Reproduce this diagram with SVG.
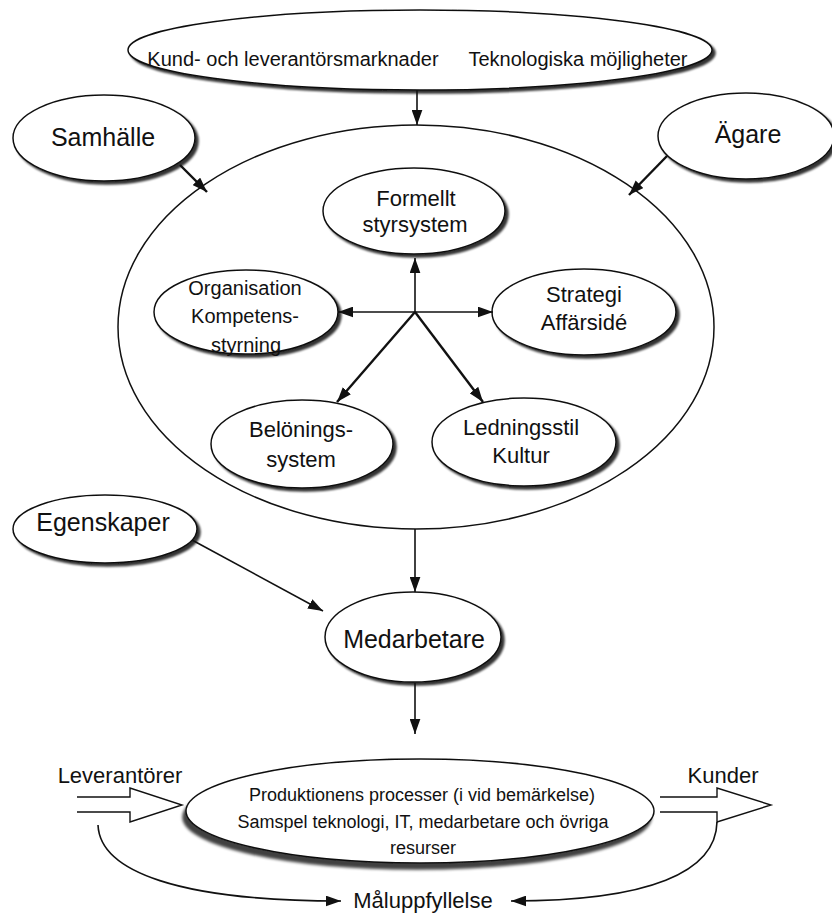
<svg xmlns="http://www.w3.org/2000/svg" width="832" height="913" viewBox="0 0 832 913">
  <defs>
    <style>
      text { font-family: "Liberation Sans", Arial, Helvetica, sans-serif; fill: #111; text-anchor: middle; }
      .node { fill: #fff; stroke: #111; stroke-width: 1.5; }
      .shadowed { filter: url(#shadow); }
      .t20 { font-size: 20px; }
      .t22 { font-size: 22px; }
      .t25 { font-size: 25px; }
      .t18 { font-size: 18px; }
      .link { fill: none; stroke: #111; stroke-width: 1.6; }
      .bold { stroke-width: 2.4; }
      .hollow { fill: #fff; stroke: #111; stroke-width: 1.4; stroke-linejoin: miter; }
    </style>
    <!-- soft grey drop shadow, lower right -->
    <filter id="shadow" x="-10%" y="-15%" width="125%" height="140%">
      <feGaussianBlur in="SourceAlpha" stdDeviation="1.2"/>
      <feOffset dx="3" dy="3"/>
      <feComponentTransfer><feFuncA type="linear" slope="0.8"/></feComponentTransfer>
      <feMerge><feMergeNode/><feMergeNode in="SourceGraphic"/></feMerge>
    </filter>
    <!-- wider shadow under the process ellipse -->
    <filter id="shadowLow" x="-10%" y="-20%" width="125%" height="150%">
      <feGaussianBlur in="SourceAlpha" stdDeviation="1.8"/>
      <feOffset dx="-3" dy="6"/>
      <feComponentTransfer><feFuncA type="linear" slope="0.75"/></feComponentTransfer>
      <feMerge><feMergeNode/><feMergeNode in="SourceGraphic"/></feMerge>
    </filter>
    <marker id="ah" viewBox="0 0 14 10" refX="14" refY="5" markerUnits="userSpaceOnUse" markerWidth="15" markerHeight="11" orient="auto">
      <path d="M0,0 L14,5 L0,10 z" fill="#111"/>
    </marker>
  </defs>

  <rect width="832" height="913" fill="#fff"/>

  <!-- outer environment: markets and technology -->
  <g id="marknader">
    <ellipse class="node shadowed" cx="420" cy="50" rx="292" ry="40"/>
    <text class="t20" x="293" y="66">Kund- och leverantörsmarknader</text>
    <text class="t20" x="578" y="66">Teknologiska möjligheter</text>
  </g>

  <!-- the company: steering components -->
  <g id="foretag">
    <ellipse class="node" cx="416" cy="327" rx="298" ry="202" stroke-width="1.3"/>
  </g>

  <g id="samhalle">
    <ellipse class="node shadowed" cx="104" cy="138" rx="91" ry="43"/>
    <text class="t25" x="103" y="146">Samhälle</text>
  </g>

  <g id="agare">
    <ellipse class="node shadowed" cx="746" cy="136" rx="88" ry="43"/>
    <text class="t25" x="748" y="143">Ägare</text>
  </g>

  <g id="styrsystem">
    <ellipse class="node shadowed" cx="414" cy="211" rx="91" ry="43"/>
    <text class="t22" x="416" y="206">Formellt</text>
    <text class="t22" x="415" y="232">styrsystem</text>
  </g>

  <g id="organisation">
    <ellipse class="node shadowed" cx="246" cy="312" rx="92" ry="42"/>
    <text class="t20" x="245" y="295">Organisation</text>
    <text class="t20" x="245" y="323">Kompetens-</text>
    <text class="t20" x="246" y="352">styrning</text>
  </g>

  <g id="strategi">
    <ellipse class="node shadowed" cx="584" cy="312" rx="92" ry="43"/>
    <text class="t22" x="584" y="302">Strategi</text>
    <text class="t22" x="584" y="330">Affärsidé</text>
  </g>

  <g id="beloning">
    <ellipse class="node shadowed" cx="302" cy="444" rx="91" ry="44"/>
    <text class="t22" x="301" y="437">Belönings-</text>
    <text class="t22" x="301" y="467">system</text>
  </g>

  <g id="ledning">
    <ellipse class="node shadowed" cx="524" cy="442" rx="92" ry="44"/>
    <text class="t22" x="521" y="435">Ledningsstil</text>
    <text class="t22" x="521" y="463">Kultur</text>
  </g>

  <g id="egenskaper">
    <ellipse class="node shadowed" cx="105" cy="529" rx="92" ry="34"/>
    <text class="t25" x="103" y="531">Egenskaper</text>
  </g>

  <g id="medarbetare">
    <ellipse class="node shadowed" cx="413" cy="637" rx="88" ry="45"/>
    <text class="t25" x="414" y="648">Medarbetare</text>
  </g>

  <g id="processer">
    <ellipse class="node" style="filter:url(#shadowLow)" cx="420" cy="811" rx="234" ry="52"/>
    <text class="t18" x="422" y="801">Produktionens processer (i vid bemärkelse)</text>
    <text class="t18" x="423" y="828">Samspel teknologi, IT, medarbetare och övriga</text>
    <text class="t18" x="423" y="854">resurser</text>
  </g>

  <g id="leverantorer">
    <text class="t22" x="120" y="783">Leverantörer</text>
    <path class="hollow" d="M77,797 H130 V788 L182,805 L130,822 V812 H77"/>
  </g>

  <g id="kunder">
    <text class="t22" x="723" y="783">Kunder</text>
    <path class="hollow" d="M660,797 H717 V788 L771,805 L717,822 V812 H660"/>
  </g>

  <g id="maluppfyllelse">
    <text style="font-size:22px" x="423" y="908">Måluppfyllelse</text>
  </g>

  <!-- connectors -->
  <g id="connectors">
    <path class="link" d="M417,90 V125" marker-end="url(#ah)"/>
    <path class="link bold" d="M180,165 L207,192" marker-end="url(#ah)"/>
    <path class="link bold" d="M667,156 L629,195" marker-end="url(#ah)"/>

    <path class="link" d="M415,312 V258" marker-end="url(#ah)"/>
    <path class="link" d="M415,312 H338" marker-end="url(#ah)"/>
    <path class="link" d="M415,312 H493" marker-end="url(#ah)"/>
    <path class="link bold" d="M415,312 L337,402" marker-end="url(#ah)"/>
    <path class="link bold" d="M415,312 L483,402" marker-end="url(#ah)"/>

    <path class="link" d="M415,529 V592" marker-end="url(#ah)"/>
    <path class="link" d="M192,540 L323,611" marker-end="url(#ah)"/>
    <path class="link" d="M415,683 V734" marker-end="url(#ah)"/>

    <path class="link" d="M98,825 C100,872 180,901 341,901" marker-end="url(#ah)"/>
    <path class="link" d="M717,822 C716,872 650,901 511,901" marker-end="url(#ah)"/>
  </g>
</svg>
